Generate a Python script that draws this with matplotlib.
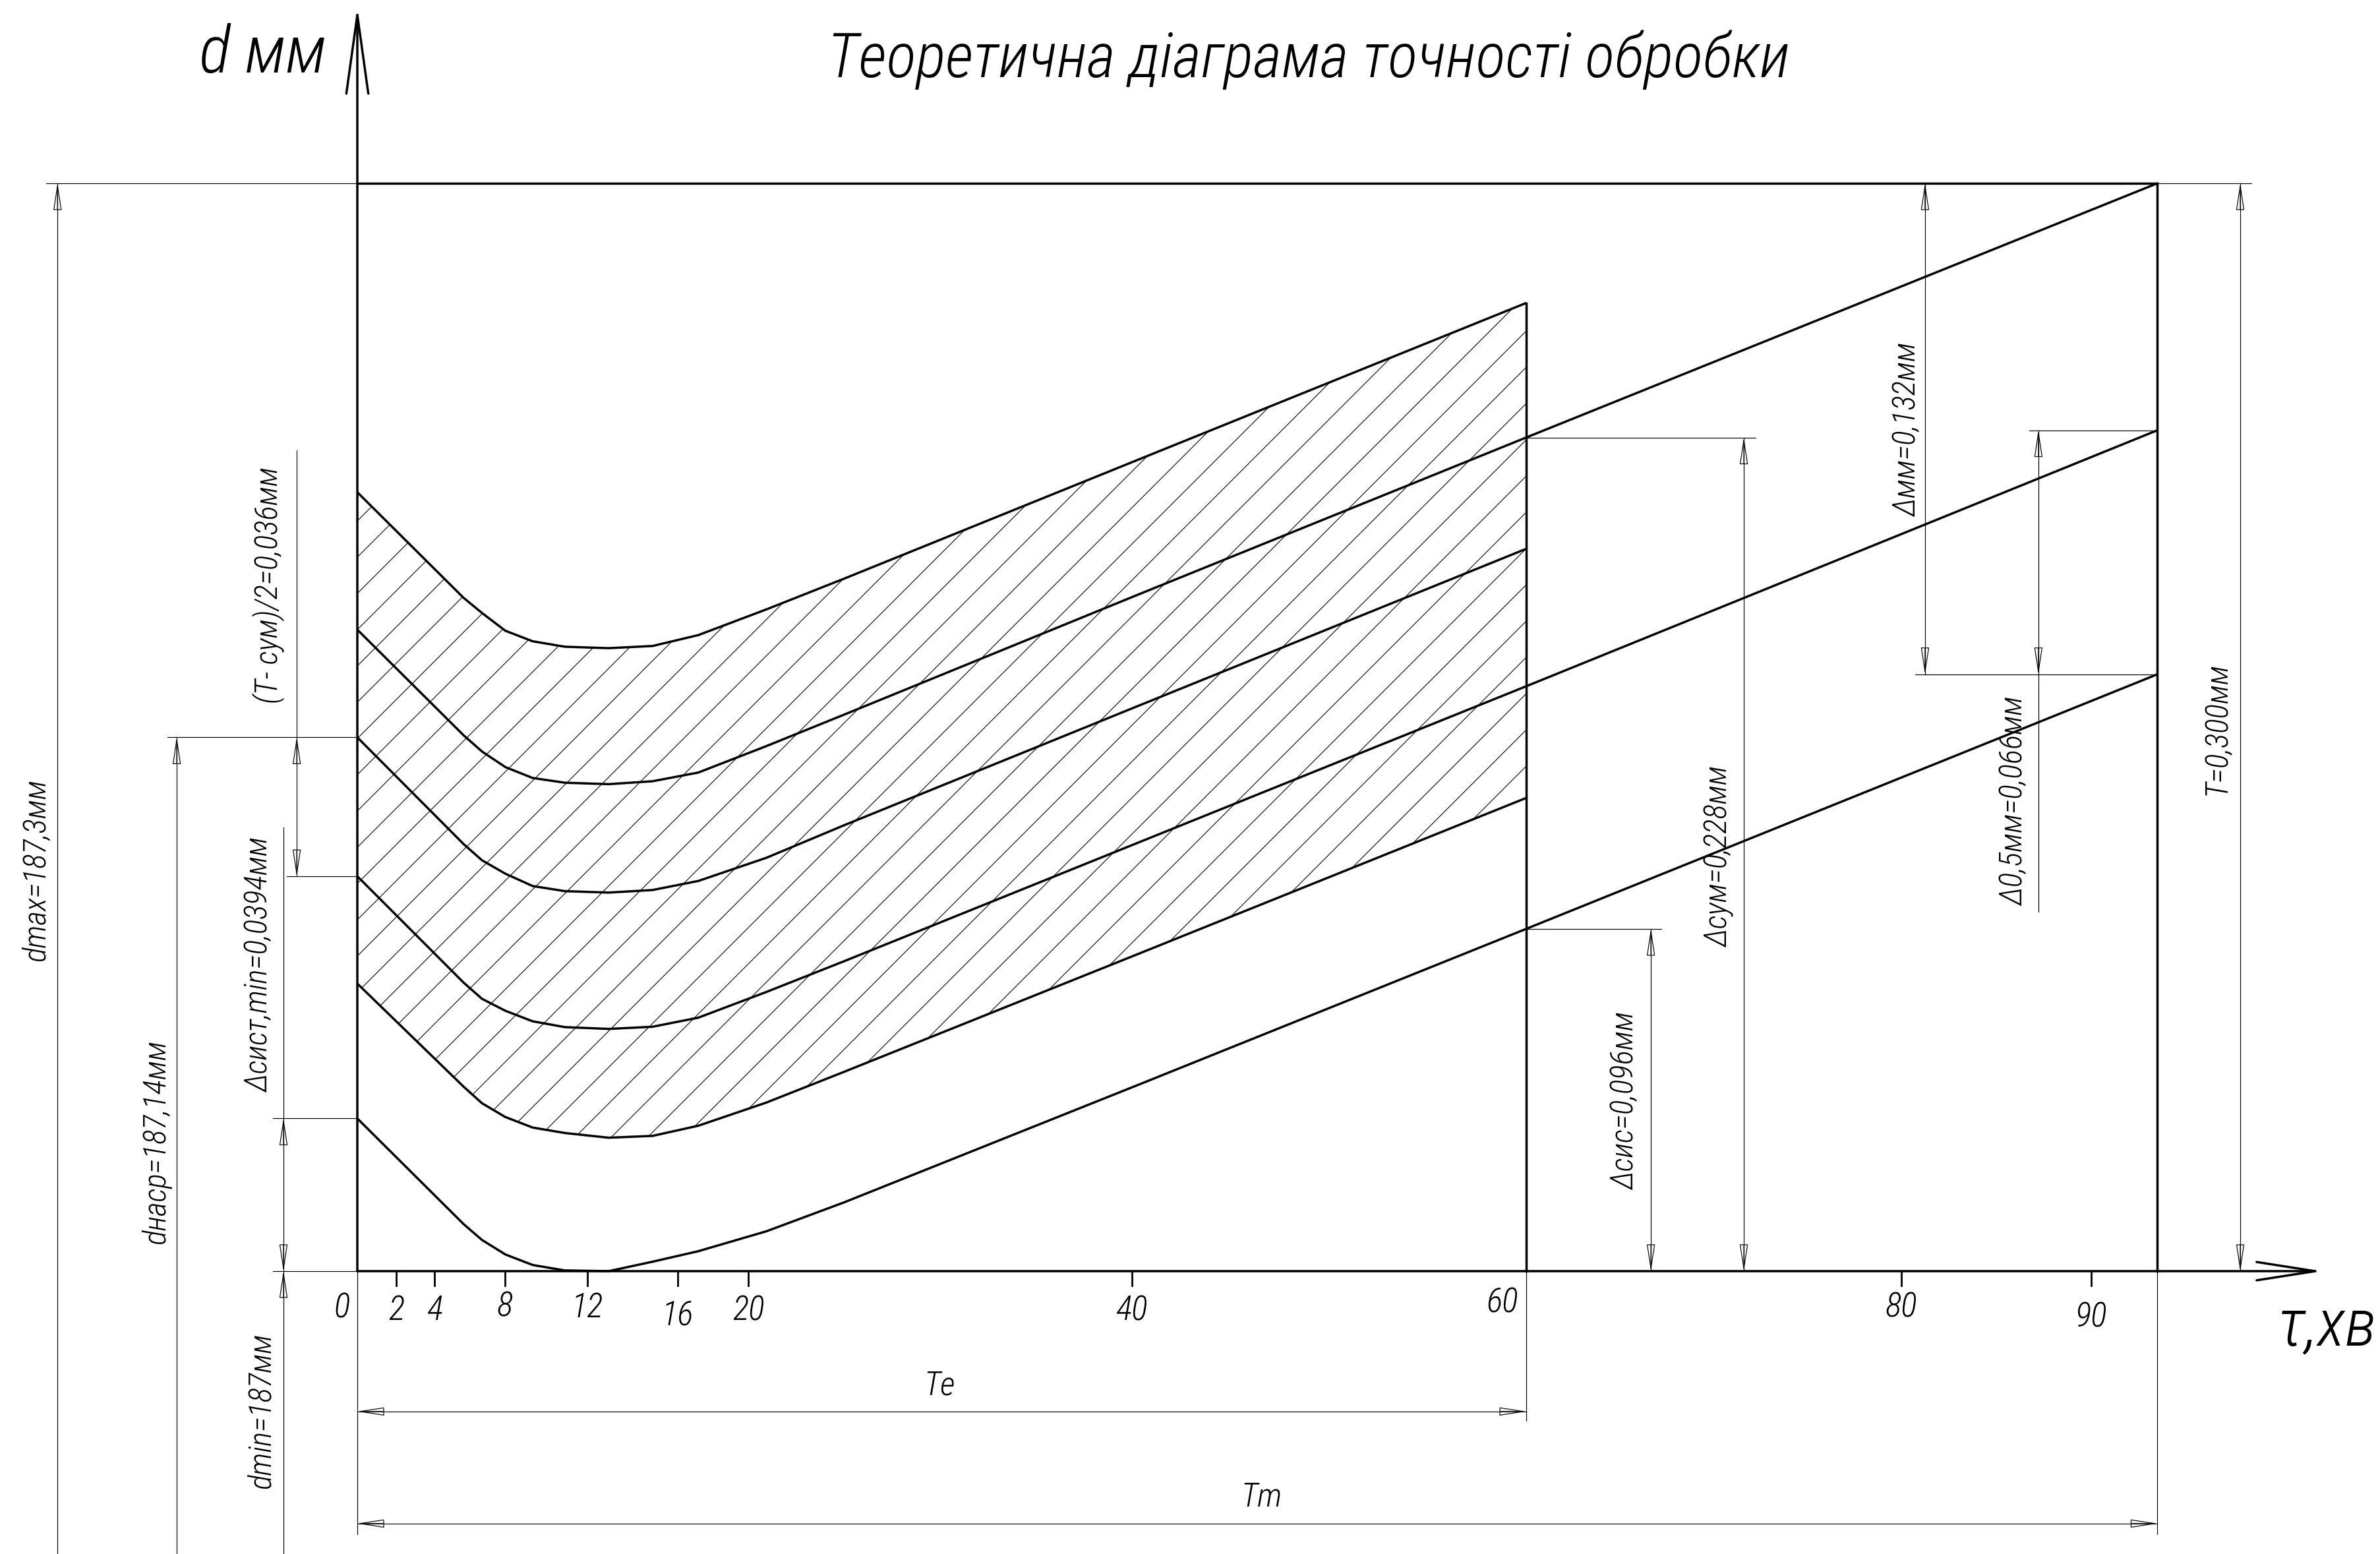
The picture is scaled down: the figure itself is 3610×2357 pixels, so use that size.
import numpy as np
import matplotlib
matplotlib.use("Agg")
import matplotlib.pyplot as plt
import matplotlib.font_manager as fm
from matplotlib.collections import LineCollection

# шрифт: вузький курсив, ближче до креслярського
avail = {f.name for f in fm.fontManager.ttflist}
FONT = "DejaVu Sans"
for cand in ["Liberation Sans Narrow", "Roboto Condensed", "DejaVu Sans"]:
    if cand in avail:
        FONT = cand
        break
plt.rcParams["font.family"] = [FONT, "DejaVu Sans"]
plt.rcParams["font.style"] = "italic"
plt.rcParams["font.weight"] = "light"

# ---- дані (τ, хв ; d - 187, мм) ----
tau = [0, 5.45, 6.4, 7.6, 9.0, 10.65, 12.9, 15.15, 17.5, 21, 25, 40, 60]
c1 = [0.0421, 0.0130, 0.0086, 0.0046, 0.0017, 0.0002, 0.0000, 0.0026, 0.0055, 0.0110, 0.0190, 0.0512, 0.0944]
c2 = [0.0793, 0.0509, 0.0463, 0.0425, 0.0396, 0.0381, 0.0368, 0.0373, 0.0401, 0.0465, 0.0550, 0.0873, 0.1305]
c3 = [0.1089, 0.0796, 0.0751, 0.0718, 0.0689, 0.0673, 0.0668, 0.0674, 0.0699, 0.0770, 0.0855, 0.1180, 0.1613]
c4 = [0.1472, 0.1178, 0.1133, 0.1096, 0.1062, 0.1048, 0.1044, 0.1051, 0.1076, 0.1140, 0.1230, 0.1557, 0.1992]
c5 = [0.1769, 0.1478, 0.1433, 0.1390, 0.1360, 0.1347, 0.1343, 0.1351, 0.1375, 0.1448, 0.1535, 0.1864, 0.2299]
c6 = [0.2148, 0.1857, 0.1815, 0.1766, 0.1737, 0.1722, 0.1718, 0.1724, 0.1754, 0.1825, 0.1910, 0.2236, 0.2670]
Te = 60
Tm = 92.4
T = 0.300
# кінці продовжених ліній при τ = Tm
c1_end = 0.1646
c3_end = 0.2319
c5_end = 0.3000

tick_pos = [1.99, 3.96, 7.58, 11.80, 16.45, 20.08, 39.76, 79.26, 89.0]
tick_labels = ["0", "2", "4", "8", "12", "16", "20", "40", "60", "80", "90"]
label_x = [-0.78, 1.99, 3.96, 7.58, 11.80, 16.45, 20.08, 39.76, 58.78, 79.26, 89.0]
label_base = [-0.0129, -0.0135, -0.0135, -0.0125, -0.0127, -0.0149, -0.0135, -0.0135, -0.0113, -0.0127, -0.0153]

# ---- полотно ----
PXM = 29.55    # px на хвилину
PXD = 5500.0   # px на мм
fig = plt.figure(figsize=(36.10, 23.57), dpi=100)
ax = fig.add_axes([0, 0, 1, 1])
ax.set_xlim(-542 / PXM, (3610 - 542) / PXM)
ax.set_ylim((1928 - 2357) / PXD, 1928 / PXD)
ax.axis("off")

K = "black"
THICK = 2.5
THIN = 0.85
YB = (1928 - 2357) / PXD

# штрихування між c2 і c6
poly = ax.fill_between(tau, c2, c6, facecolor="none", edgecolor="none")
m = PXM / PXD
segs = [[(0, 0.1769 + k * 0.01), (Te, 0.1769 + k * 0.01 + m * Te)] for k in range(-36, 6)]
lc = LineCollection(segs, colors=K, linewidths=0.8)
ax.add_collection(lc)
lc.set_clip_path(poly.get_paths()[0], ax.transData)

# криві
for c in (c2, c4, c6):
    ax.plot(tau, c, color=K, lw=THICK, solid_capstyle="butt", solid_joinstyle="round")
for c, e in ((c1, c1_end), (c3, c3_end), (c5, c5_end)):
    ax.plot(tau + [Tm], c + [e], color=K, lw=THICK, solid_capstyle="butt", solid_joinstyle="round")

# рамка
ax.plot([0, Tm], [T, T], color=K, lw=THICK)
ax.plot([Te, Te], [0, c6[-1]], color=K, lw=THICK)
ax.plot([Tm, Tm], [0, T], color=K, lw=THICK)

# осі зі стрілками
ax.annotate("", xy=(0, 1918 / PXD), xytext=(0, 0),
            arrowprops=dict(arrowstyle="->,head_length=4.3,head_width=0.6", mutation_scale=20,
                            lw=THICK, color=K, shrinkA=0, shrinkB=0))
ax.annotate("", xy=((3523 - 542) / PXM, 0), xytext=(0, 0),
            arrowprops=dict(arrowstyle="->,head_length=3.2,head_width=0.5", mutation_scale=20,
                            lw=THICK, color=K, shrinkA=0, shrinkB=0))

# поділки
for p in tick_pos:
    ax.plot([p, p], [0, -22 / PXD], color=K, lw=2.0)
for s, x, b in zip(tick_labels, label_x, label_base):
    ax.text(x, b, s, ha="center", va="baseline", fontsize=37)


def thin(xs, ys):
    ax.plot(xs, ys, color=K, lw=THIN)


def head(x, y, dx, dy):
    ax.annotate("", xy=(x, y), xytext=(-dx * 28, -dy * 28), textcoords="offset points",
                arrowprops=dict(arrowstyle="-|>,head_length=1.3,head_width=0.2", mutation_scale=20,
                                shrinkA=0, shrinkB=0, fc="none", ec=K, lw=THIN))


def vdim(x, y0, y1):
    thin([x, x], [y0, y1])
    head(x, max(y0, y1), 0, 1)
    head(x, min(y0, y1), 0, -1)


def hdim(y, x0, x1):
    thin([x0, x1], [y, y])
    head(x1, y, 1, 0)
    head(x0, y, -1, 0)


# виносні лінії
thin([-15.97, 0], [T, T])
thin([Tm, 97.23], [T, T])
thin([-9.75, 0], [c4[0], c4[0]])
thin([-3.63, 0], [c3[0], c3[0]])
thin([-4.33, 0], [c1[0], c1[0]])
thin([-4.33, 0], [0, 0])
thin([Te, 66.94], [c1[-1], c1[-1]])
thin([Te, 71.78], [c5[-1], c5[-1]])
thin([79.97, Tm], [c1_end, c1_end])
thin([85.82, Tm], [c3_end, c3_end])
thin([0, 0], [0, -0.0725])
thin([Te, Te], [0, -0.0413])
thin([Tm, Tm], [0, -0.0725])

# розміри зліва
thin([-15.39, -15.39], [T, YB])
head(-15.39, T, 0, 1)
thin([-9.27, -9.27], [c4[0], YB])
head(-9.27, c4[0], 0, 1)
thin([-3.11, -3.11], [0.2264, c3[0]])
head(-3.11, c4[0], 0, 1)
head(-3.11, c3[0], 0, -1)
thin([-3.79, -3.79], [0.1224, YB])
head(-3.79, c1[0], 0, 1)
head(-3.79, 0, 0, -1)
head(-3.79, 0, 0, 1)

# розміри справа
vdim(66.40, 0, c1[-1])
vdim(71.17, 0, c5[-1])
vdim(80.47, c1_end, T)
vdim(86.29, c1_end, c3_end)
thin([86.29, 86.29], [c1_end, 0.0991])
vdim(96.65, 0, T)

# розміри знизу
hdim(-0.0387, 0, Te)
hdim(-0.0696, 0, Tm)

# написи
FS = 34
rot_texts = [
    ("dmax=187,3мм", -16.49, 0.1107),
    ("dнаср=187,14мм", -10.32, 0.0356),
    ("(T- сум)/2=0,036мм", -4.57, 0.1891),
    ("Δсист,min=0,0394мм", -5.04, 0.0844),
    ("dmin=187мм", -4.91, -0.0385),
    ("Δсис=0,096мм", 65.08, 0.0469),
    ("Δсум=0,228мм", 69.92, 0.1142),
    ("Δмм=0,132мм", 79.56, 0.232),
    ("Δ0,5мм=0,066мм", 85.04, 0.1296),
    ("T=0,300мм", 95.47, 0.1496),
]
for s, x, y in rot_texts:
    ax.text(x, y, s, rotation=90, ha="center", va="center", fontsize=FS)

ax.text(29.9, -0.0316, "Te", ha="center", va="center", fontsize=36)
ax.text(46.4, -0.0625, "Tm", ha="center", va="center", fontsize=36)

ax.text(48.83, 0.3293, "Теоретична діаграма точності обробки", ha="center", va="baseline", fontsize=68)
ax.text(-4.84, 0.3305, "d мм", ha="center", va="baseline", fontsize=72)
ax.text(101.1, -0.0204, "τ,хв", ha="center", va="baseline", fontsize=72)

fig.savefig("out.png", dpi=100, facecolor="white")
